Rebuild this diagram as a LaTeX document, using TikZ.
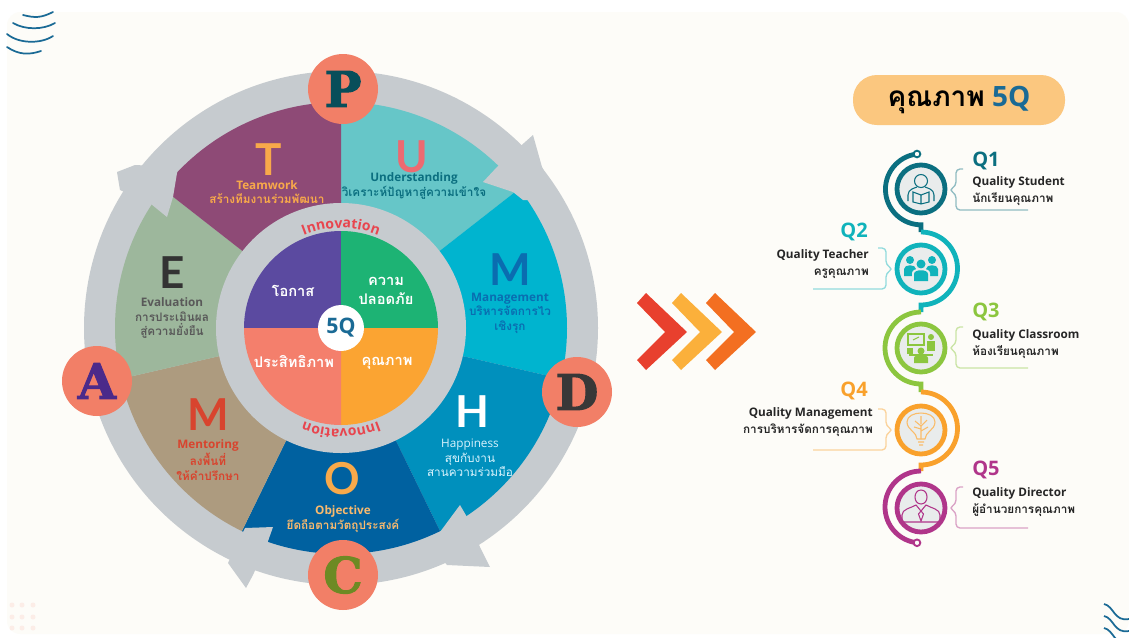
\documentclass[tikz,border=0pt]{standalone}
\usepackage{fontspec}
\setmainfont{Open Sans}
\newfontfamily\thaifont[Script=Thai]{Loma}
\newfontfamily\slabfont[BoldFeatures={FakeBold=2}]{DejaVu Serif}
\newfontfamily\bigfont{Lato}
\usetikzlibrary{positioning, calc, decorations.text}
\definecolor{cream}{HTML}{FDFCF8}
\definecolor{ringgray}{HTML}{C6CBCF}
\definecolor{badge}{HTML}{F27F67}
\definecolor{secU}{HTML}{66C6C8}
\definecolor{secM}{HTML}{00B4CF}
\definecolor{secH}{HTML}{0090BD}
\definecolor{secO}{HTML}{0061A0}
\definecolor{secN}{HTML}{AD9B7F}
\definecolor{secE}{HTML}{9DB79C}
\definecolor{secT}{HTML}{8E4A76}
\definecolor{qa}{HTML}{0B6F80}
\definecolor{qb}{HTML}{10B3BB}
\definecolor{qc}{HTML}{8CC63F}
\definecolor{qd}{HTML}{F9A12C}
\definecolor{qe}{HTML}{B0358A}
\definecolor{qfill}{HTML}{E9ECEC}
\definecolor{inno}{HTML}{E8454E}
\definecolor{amber}{HTML}{F8A94A}
\definecolor{peach}{HTML}{FBC77F}
\definecolor{brick}{HTML}{D8442E}
\definecolor{steel}{HTML}{1A6A95}
\definecolor{ocean}{HTML}{0A6DB0}
\definecolor{letterA}{HTML}{4B2A8A}
\definecolor{letterC}{HTML}{6D8A24}
\newcommand{\thai}[1]{{\thaifont #1}}
\tikzset{>=latex}
\tikzset{
    letter/.style={inner sep=0,font=\fontsize{33}{36}\selectfont\bfseries\bigfont},
    seclabel/.style={inner sep=0,align=center,font=\fontsize{8.8}{11}\selectfont\bfseries},
    innerlabel/.style={inner sep=0,align=center,text=white,font=\fontsize{11}{14.5}\selectfont\bfseries\thaifont},
    pdca/.style={circle,fill=badge,minimum size=52.5pt,inner sep=0,font=\fontsize{37}{40}\selectfont\bfseries\slabfont},
    qring/.style={circle,draw=#1,fill=qfill,line width=3.6pt,minimum size=36pt,inner sep=0},
    qline/.style={draw=#1,line width=3.6pt},
    qknob/.style={circle,draw=#1,fill=cream,line width=1.4pt,minimum size=5pt,inner sep=0},
    qname/.style={inner sep=0,text=#1,font=\fontsize{15}{17}\selectfont\bfseries},
    qtext/.style={inner sep=0,text=black!85,font=\fontsize{8.8}{12.6}\selectfont\bfseries},
    qicon/.style={draw=#1,line width=0.8pt,fill=none},
}
\begin{document}
\begin{tikzpicture}[x=0.75pt,y=-0.75pt]
    \useasboundingbox (0,0) rectangle (1129,637);
    \fill[white] (0,0) rectangle (1129,637);
    \fill[cream,rounded corners=10pt] (7,12) rectangle (1129,634);
    % corners
    \foreach \ya/\yb/\yc/\xa/\xb in {15/18/12/23/53, 23/30/23/13/55, 34/44/36/7/53, 47/55/51/7/41}
        \draw[draw=steel,line width=1.3pt,line cap=round] (\xa,\ya) .. controls (\xa+12,\yb) and (\xb-12,\yb) .. (\xb,\yc);
    \foreach \yy in {604,616,628}
        \draw[draw=steel,line width=1.3pt] (1104,\yy) .. controls (1114,\yy+2) and (1114,\yy+18) .. (1129,\yy+15);
    \foreach \xx in {12,22,33}
        \foreach \yy in {605,617,628}
            \fill[badge!12!cream] (\xx,\yy) circle (2.5);

    \coordinate (c) at (341,328);
    \fill[ringgray] (c) circle (257);
    \foreach \aa/\ab/\col in {-90/-38/secU, -38/13/secM, 13/64/secH, 64/116/secO, 116/167/secN, 167/218/secE, 218/270/secT}
        \fill[\col] (c) -- ++(\aa:226) arc (\aa:\ab:226) -- cycle;
    % arrow heads on the ring
    \fill[ringgray] (483,182) -- (497,167) -- (533,135) -- (542,167) -- (560,200) -- (523,200) -- (513,192) -- cycle;
    \fill[ringgray] (460,505) -- (467,517) -- (480,547) -- (490,567) -- (447,565) -- (430,545) -- (440,532) -- cycle;
    \fill[ringgray] (273,527) -- (267,544) -- (253,575) -- (246,588) -- (228,563) -- (245,528) -- cycle;
    \fill[ringgray] (117,172) -- (135,165) -- (178,167) -- (173,197) -- (167,217) -- (151,204) -- (120,190) -- cycle;

    \fill[ringgray] (c) circle (125);
    \foreach \aa/\col in {180/5B4AA0, 270/1DB374, 0/FBA432, 90/F47F6C}{
        \definecolor{quad}{HTML}{\col}
        \fill[quad] (c) -- ++(\aa:97) arc (\aa:\aa+90:97) -- cycle;
    }
    \node[circle,fill=white,minimum size=34.5pt,inner sep=0,text=steel,font=\fontsize{16}{18}\selectfont\bfseries] (five) at (c) {5Q};
    \path[decorate,decoration={text along path,text align=center,text={|\fontsize{10.5}{13}\selectfont\bfseries\color{inno}|Innovation}}] (c) ++(-120:100) arc (-120:-60:100);
    \path[decorate,decoration={text along path,text align=center,text={|\fontsize{10.5}{13}\selectfont\bfseries\color{inno}|Innovation}}] (c) ++(60:101) arc (60:120:101);

    \node[innerlabel] (okas) at (293,291) {โอกาส};
    \node[innerlabel] (safe) at (386,291) {ความ\\ปลอดภัย};
    \node[innerlabel] (effi) at (294,362) {ประสิทธิภาพ};
    \node[innerlabel] (qual) at (387,363) {คุณภาพ};

    \node[pdca,text=qa!70!black] (P) at (343,89) {P};
    \node[pdca,text=letterA] (A) at (97,381) {A};
    \node[pdca,text=black!78] (D) at (577,392) {D};
    \node[pdca,text=letterC] (C) at (343,575) {C};

    \node[letter,text=amber] (T) at (269,160) {T};
    \node[seclabel,text=amber] (Tt) at (267,192) {Teamwork\\\thai{สร้างทีมงานร่วมพัฒนา}};
    \node[letter,text=inno!80!white] (U) at (412,157) {U};
    \node[seclabel,text=qa] (Ut) at (414,186) {Understanding\\\thai{วิเคราะห์ปัญหาสู่ความเข้าใจ}};
    \node[letter,text=ocean] (M) at (510,270) {M};
    \node[seclabel,text=ocean] (Mt) at (510,313) {Management\\\thai{บริหารจัดการไว}\\\thai{เชิงรุก}};
    \node[letter,text=white] (H) at (472,412) {H};
    \node[seclabel,text=white!85!cyan,font=\fontsize{8.8}{11}\selectfont] (Ht) at (470,458) {Happiness\\\thai{สุขกับงาน}\\\thai{สานความร่วมมือ}};
    \node[letter,text=amber] (O) at (342,479) {O};
    \node[seclabel,text=amber!80!white] (Ot) at (343,519) {Objective\\\thai{ยึดถือตามวัตถุประสงค์}};
    \node[letter,text=brick] (N) at (208,415) {M};
    \node[seclabel,text=brick] (Nt) at (208,460) {Mentoring\\\thai{ลงพื้นที่}\\\thai{ให้คำปรึกษา}};
    \node[letter,text=black!80] (E) at (172,273) {E};
    \node[seclabel,text=black!65] (Et) at (172,318) {Evaluation\\\thai{การประเมินผล}\\\thai{สู่ความยั่งยืน}};

    % chevrons
    \foreach \dx/\col in {0/E8402E, 35/FBB03B, 69/F36F21}{
        \definecolor{chev}{HTML}{\col}
        \fill[chev] (637+\dx,303) -- (646+\dx,293) -- (687+\dx,332) -- (646+\dx,370) -- (637+\dx,360) -- (665+\dx,332) -- cycle;
    }

    \node[fill=peach,rounded corners=18pt,minimum width=159pt,minimum height=37.5pt,inner sep=0,font=\fontsize{21}{24}\selectfont\bfseries] (title) at (959,100) {\thai{คุณภาพ} \textcolor{steel}{5Q}};

    \node[qring=qa] (q1) at (921,189) {};
    \node[qring=qb] (q2) at (921,269) {};
    \node[qring=qc] (q3) at (921,348) {};
    \node[qring=qd] (q4) at (921,430) {};
    \node[qring=qe] (q5) at (921,508) {};
    \coordinate (a1) at (917,154);
    \coordinate (a2) at (921,232);
    \coordinate (a3) at (921,312);
    \coordinate (a4) at (921,392);
    \coordinate (a5) at (921,471);
    \draw[qline=qa] (a1) arc (263.6:90:35.5) coordinate (e1) -- (a2);
    \draw[qline=qb] (a2) arc (-90:90:36.5) coordinate (e2) -- (a3);
    \draw[qline=qc] (a3) arc (270:90:36) coordinate (e3) -- (a4);
    \draw[qline=qd] (a4) arc (-90:90:36.5) coordinate (e4) -- (a5);
    \draw[qline=qe] (a5) arc (270:96.4:36) coordinate (e5);
    \node[qknob=qa] (k1) at (a1) {};
    \node[qknob=qe] (k5) at (e5) {};

    % brackets
    \foreach \yy/\col in {190/qa, 348/qc, 508/qe}
        \draw[\col!45!cream,line width=1pt,rounded corners=3pt] (963,\yy-21) -- (956,\yy-21) -- (956,\yy-4) -- (949,\yy) -- (956,\yy+4) -- (956,\yy+20) -- (1028,\yy+20);
    \foreach \yy/\col in {269/qb, 430/qd}
        \draw[\col!45!cream,line width=1pt,rounded corners=3pt] (878,\yy-21) -- (886,\yy-21) -- (886,\yy-4) -- (893,\yy) -- (886,\yy+4) -- (886,\yy+20) -- (813,\yy+20);

    \node[qname=qa,anchor=west] (n1) at (972,161) {Q1};
    \node[qtext,anchor=west,align=left] (t1) at (972,191) {Quality Student\\\thai{นักเรียนคุณภาพ}};
    \node[qname=qb,anchor=east] (n2) at (868,232) {Q2};
    \node[qtext,anchor=east,align=right] (t2) at (869,264) {Quality Teacher\\\thai{ครูคุณภาพ}};
    \node[qname=qc,anchor=west] (n3) at (972,312) {Q3};
    \node[qtext,anchor=west,align=left] (t3) at (972,344) {Quality Classroom\\\thai{ห้องเรียนคุณภาพ}};
    \node[qname=qd,anchor=east] (n4) at (868,391) {Q4};
    \node[qtext,anchor=east,align=right] (t4) at (873,422) {Quality Management\\\thai{การบริหารจัดการคุณภาพ}};
    \node[qname=qe,anchor=west] (n5) at (972,470) {Q5};
    \node[qtext,anchor=west,align=left] (t5) at (972,502) {Quality Director\\\thai{ผู้อำนวยการคุณภาพ}};

    % icons
    \begin{scope}[shift={(921,189)}]
        \draw[qicon=qa] (0,-8) circle (6.5);
        \draw[qicon=qa] (-13,12) -- (-13,6) .. controls (-13,0) and (-6,-1) .. (-4,-2) (13,12) -- (13,6) .. controls (13,0) and (6,-1) .. (4,-2);
        \draw[qicon=qa] (-8,3) -- (0,6) -- (8,3) -- (8,13) -- (0,15) -- (-8,13) -- cycle (0,6) -- (0,15);
    \end{scope}
    \begin{scope}[shift={(921,269)}]
        \foreach \xx in {-11,11}{
            \fill[qb] (\xx,-9) circle (4);
            \fill[qb] (\xx-6,7) -- (\xx-6,0) .. controls (\xx-6,-5) and (\xx+6,-5) .. (\xx+6,0) -- (\xx+6,7) -- cycle;
        }
        \fill[qfill] (0,-6) circle (6);
        \fill[qb] (0,-5) circle (4.5);
        \fill[qfill] (-9,13) -- (-9,4) .. controls (-9,-2) and (9,-2) .. (9,4) -- (9,13) -- cycle;
        \fill[qb] (-7,12) -- (-7,5) .. controls (-7,0) and (7,0) .. (7,5) -- (7,12) -- cycle;
    \end{scope}
    \begin{scope}[shift={(921,348)}]
        \draw[qicon=qc] (-13,-14) rectangle (3,-3);
        \draw[qicon=qc] (-8,-8) -- (-2,-11);
        \fill[qc] (10,-11) circle (3);
        \fill[qc] (6,-7) rectangle (14,3);
        \fill[qc] (-14,0) rectangle (-8,6);
        \fill[qc] (-12,6) rectangle (12,8);
        \fill[qc] (0,3) circle (3.5);
        \fill[qc] (-7,15) -- (-7,10) .. controls (-7,6) and (7,6) .. (7,10) -- (7,15) -- cycle;
    \end{scope}
    \begin{scope}[shift={(921,430)}]
        \draw[qicon=qd!70!cream] (-4,9) .. controls (-4,2) and (-14,0) .. (-14,-8) .. controls (-14,-20) and (14,-20) .. (14,-8) .. controls (14,0) and (4,2) .. (4,9) -- cycle;
        \draw[qicon=qd!70!cream] (-3,12) -- (3,12) (-2,15) -- (2,15) (0,9) -- (0,-4) -- (-6,-9) (0,-4) -- (6,-10) (0,-1) -- (-7,-3) (0,1) -- (7,-3) (0,-6) -- (0,-14);
    \end{scope}
    \begin{scope}[shift={(921,508)}]
        \draw[qicon=qe] (0,-4) .. controls (-8,-4) and (-8,-18) .. (0,-18) .. controls (8,-18) and (8,-4) .. (0,-4);
        \draw[qicon=qe] (-19,14) -- (-19,7) .. controls (-19,1) and (-10,0) .. (-5,-3) -- (0,3) -- (5,-3) .. controls (10,0) and (19,1) .. (19,7) -- (19,14) -- cycle;
        \draw[qicon=qe] (0,3) -- (-2.5,6) -- (0,13) -- (2.5,6) -- cycle;
    \end{scope}
\end{tikzpicture}
\end{document}
